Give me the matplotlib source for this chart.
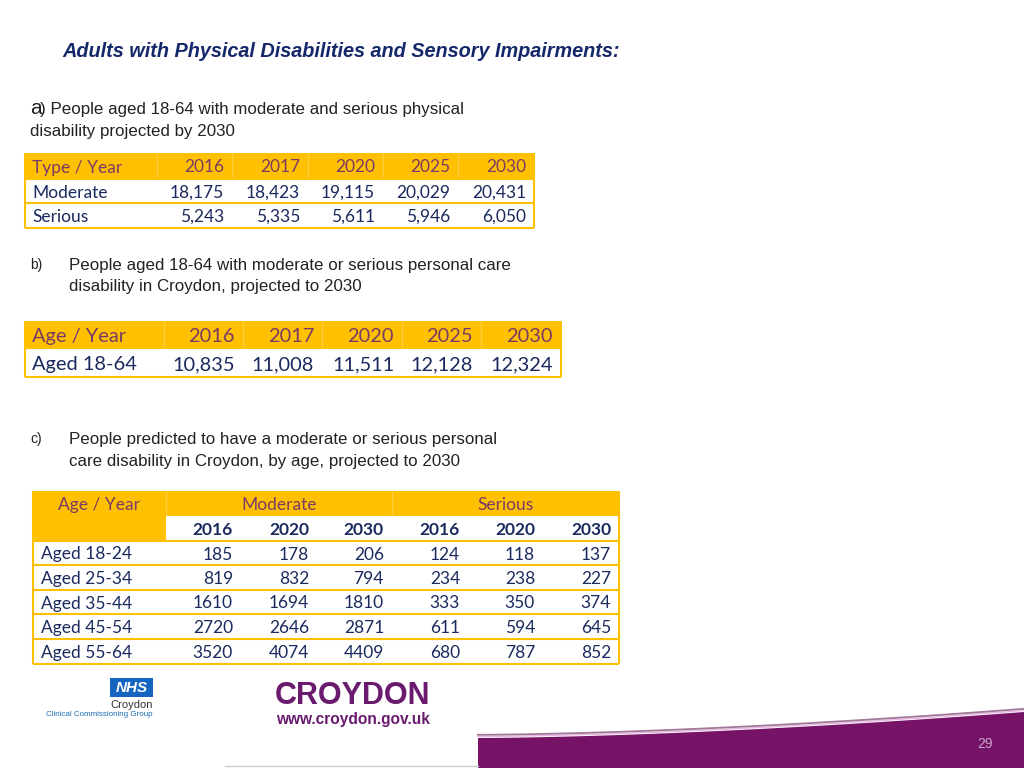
import matplotlib
matplotlib.use('Agg')
import matplotlib.pyplot as plt
from matplotlib.patches import Rectangle, Polygon
import numpy as np

# ---- data ----
years_a = ['2016', '2017', '2020', '2025', '2030']
types_a = ['Moderate', 'Serious']
values_a = [
    ['18,175', '18,423', '19,115', '20,029', '20,431'],
    ['5,243', '5,335', '5,611', '5,946', '6,050'],
]

years_b = ['2016', '2017', '2020', '2025', '2030']
ages_b = ['Aged 18-64']
values_b = [['10,835', '11,008', '11,511', '12,128', '12,324']]

groups_c = ['Moderate', 'Serious']
years_c = ['2016', '2020', '2030']
ages_c = ['Aged 18-24', 'Aged 25-34', 'Aged 35-44', 'Aged 45-54', 'Aged 55-64']
moderate_c = [
    [185, 178, 206],
    [819, 832, 794],
    [1610, 1694, 1810],
    [2720, 2646, 2871],
    [3520, 4074, 4409],
]
serious_c = [
    [124, 118, 137],
    [234, 238, 227],
    [333, 350, 374],
    [611, 594, 645],
    [680, 787, 852],
]

# ---- style ----
GOLD = '#FFC000'
GOLD_LT = '#FFCE40'
HEAD = '#7A3B66'
BODY = '#1B2A5E'
PURPLE = '#761367'
TFONT = ['Lato', 'DejaVu Sans']
AFONT = ['Liberation Sans', 'DejaVu Sans']
DY = 1.5  # small downward nudge so text sits like the slide

fig = plt.figure(figsize=(10.24, 7.68), dpi=100)
ax = fig.add_axes([0, 0, 1, 1])
ax.set_xlim(0, 1024)
ax.set_ylim(768, 0)
ax.axis('off')


def rect(x0, y0, x1, y1, fc, ec='none', lw=0):
    ax.add_patch(Rectangle((x0, y0), x1 - x0, y1 - y0, facecolor=fc,
                           edgecolor=ec, linewidth=lw))


def hline(x0, x1, y, c=GOLD, lw=1.5):
    ax.plot([x0, x1], [y, y], color=c, lw=lw, solid_capstyle='butt')


def vline(x, y0, y1, c=GOLD, lw=1.5):
    ax.plot([x, x], [y0, y1], color=c, lw=lw, solid_capstyle='butt')


def txt(x, y, s, **kw):
    kw.setdefault('va', 'center')
    ax.text(x, y + DY, s, **kw)


# ---- title and captions ----
txt(62, 50, 'Adults with Physical Disabilities and Sensory Impairments:',
    family=AFONT, fontsize=14.3, fontweight='bold', fontstyle='italic',
    color='#15286A')

txt(30, 107, 'a', family=AFONT, fontsize=15, color='#222222')
txt(40, 108, ') People aged 18-64 with moderate and serious physical',
    family=AFONT, fontsize=12.2, color='#222222')
txt(30, 130, 'disability projected by 2030', family=AFONT, fontsize=12.2,
    color='#222222')

txt(30, 264, 'b)', family=AFONT, fontsize=10, color='#222222')
txt(69, 264, 'People aged 18-64 with moderate or serious personal care',
    family=AFONT, fontsize=12.2, color='#222222')
txt(69, 285, 'disability in Croydon, projected to 2030', family=AFONT,
    fontsize=12.2, color='#222222')

txt(30, 438, 'c)', family=AFONT, fontsize=10, color='#222222')
txt(69, 438, 'People predicted to have a moderate or serious personal',
    family=AFONT, fontsize=12.2, color='#222222')
txt(69, 460, 'care disability in Croydon, by age, projected to 2030',
    family=AFONT, fontsize=12.2, color='#222222')

# ---- table a ----
xa0, xa1 = 25, 534
ya = [153, 179, 203, 228]
col_a = [157, 232, 308, 383, 458, 534]
rect(xa0, ya[0], xa1, ya[1], GOLD)
for x in col_a[:-1]:
    vline(x, ya[0], ya[1], GOLD_LT, 1)
txt(32, (ya[0] + ya[1]) / 2, 'Type / Year', family=TFONT, fontsize=12.5,
    color=HEAD)
for j, yr in enumerate(years_a):
    txt(col_a[j + 1] - 8, (ya[0] + ya[1]) / 2, yr, family=TFONT,
        fontsize=12.5, color=HEAD, ha='right')
for i, name in enumerate(types_a):
    yc = (ya[i + 1] + ya[i + 2]) / 2
    txt(32, yc, name, family=TFONT, fontsize=12.5, color=BODY)
    for j, v in enumerate(values_a[i]):
        txt(col_a[j + 1] - 8, yc, v, family=TFONT, fontsize=12.5,
            color=BODY, ha='right')
for y in ya[1:]:
    hline(xa0, xa1, y)
vline(xa0, ya[0], ya[-1])
vline(xa1, ya[0], ya[-1])

# ---- table b ----
xb0, xb1 = 25, 561
yb = [321, 349, 377]
col_b = [164, 243, 322, 402, 481, 561]
rect(xb0, yb[0], xb1, yb[1], GOLD)
for x in col_b[:-1]:
    vline(x, yb[0], yb[1], GOLD_LT, 1)
txt(32, (yb[0] + yb[1]) / 2, 'Age / Year', family=TFONT, fontsize=14.4,
    color=HEAD)
for j, yr in enumerate(years_b):
    txt(col_b[j + 1] - 8, (yb[0] + yb[1]) / 2, yr, family=TFONT,
        fontsize=14.4, color=HEAD, ha='right')
for i, name in enumerate(ages_b):
    yc = (yb[i + 1] + yb[i + 2]) / 2
    txt(32, yc, name, family=TFONT, fontsize=14.4, color=BODY)
    for j, v in enumerate(values_b[i]):
        txt(col_b[j + 1] - 8, yc, v, family=TFONT, fontsize=14.4,
            color=BODY, ha='right')
hline(xb0, xb1, yb[-1])
vline(xb0, yb[0], yb[-1])
vline(xb1, yb[0], yb[-1])

# ---- table c ----
xc0, xc1 = 33, 619
col_c = [166, 241, 317, 392, 468, 543, 619]
yc_edges = [491, 516, 541, 565, 590, 614, 639, 664]
rect(xc0, yc_edges[0], xc1, yc_edges[1], GOLD)
rect(xc0, yc_edges[1], col_c[0], yc_edges[2], GOLD)
vline(col_c[0], yc_edges[0], yc_edges[1], GOLD_LT, 1)
vline(col_c[3], yc_edges[0], yc_edges[1], GOLD_LT, 1)
txt((xc0 + col_c[0]) / 2, (yc_edges[0] + yc_edges[1]) / 2, 'Age / Year',
    family=TFONT, fontsize=12.5, color=HEAD, ha='center')
for g, grp in enumerate(groups_c):
    gx = (col_c[g * 3] + col_c[g * 3 + 3]) / 2
    txt(gx, (yc_edges[0] + yc_edges[1]) / 2, grp, family=TFONT,
        fontsize=12.5, color=HEAD, ha='center')
    for j, yr in enumerate(years_c):
        txt(col_c[g * 3 + j + 1] - 8, (yc_edges[1] + yc_edges[2]) / 2, yr,
            family=TFONT, fontsize=12.5, fontweight='bold', color=BODY,
            ha='right')
for i, name in enumerate(ages_c):
    ym = (yc_edges[i + 2] + yc_edges[i + 3]) / 2
    txt(41, ym, name, family=TFONT, fontsize=12.5, color=BODY)
    row = moderate_c[i] + serious_c[i]
    for j, v in enumerate(row):
        txt(col_c[j + 1] - 8, ym, str(v), family=TFONT, fontsize=12.5,
            color=BODY, ha='right')
for y in yc_edges[2:]:
    hline(xc0, xc1, y)
vline(xc0, yc_edges[0], yc_edges[-1])
vline(xc1, yc_edges[0], yc_edges[-1])

# ---- logos ----
rect(110, 678, 153, 697, '#1565C0')
txt(131.5, 687, 'NHS', family=AFONT, fontsize=11, fontweight='bold',
    fontstyle='italic', color='white', ha='center')
txt(153, 703, 'Croydon', family=AFONT, fontsize=8, color='#333333',
    ha='right')
txt(153, 713, 'Clinical Commissioning Group', family=AFONT, fontsize=5.8,
    color='#1E6FB8', ha='right')

txt(353, 695, 'CROYDON', family=AFONT, fontsize=22, fontweight='bold',
    color='#6A1B6E', ha='center')
txt(353, 718, 'www.croydon.gov.uk', family=AFONT, fontsize=11.2,
    fontweight='bold', color='#6A1B6E', ha='center')

# ---- bottom band ----
bx = np.linspace(478, 1024, 100)
t = (bx - 478) / (1024 - 478)
btop = 738 - 26 * t ** 1.6
ax.add_patch(Polygon(np.column_stack([np.r_[bx, 1024, 478], np.r_[btop, 768, 768]]),
                     closed=True, facecolor=PURPLE, edgecolor='none'))
ax.plot(bx, btop - 1.5, color='#E8B8E0', lw=1.0)
ax.plot(bx, btop - 3.2, color='#A07898', lw=1.3)
ax.plot([225, 478], [766, 766], color='#CCCCCC', lw=1)
txt(985, 743, '29', family=AFONT, fontsize=10, color='#C9A2C8', ha='center')

fig.savefig('out.png', dpi=100)
